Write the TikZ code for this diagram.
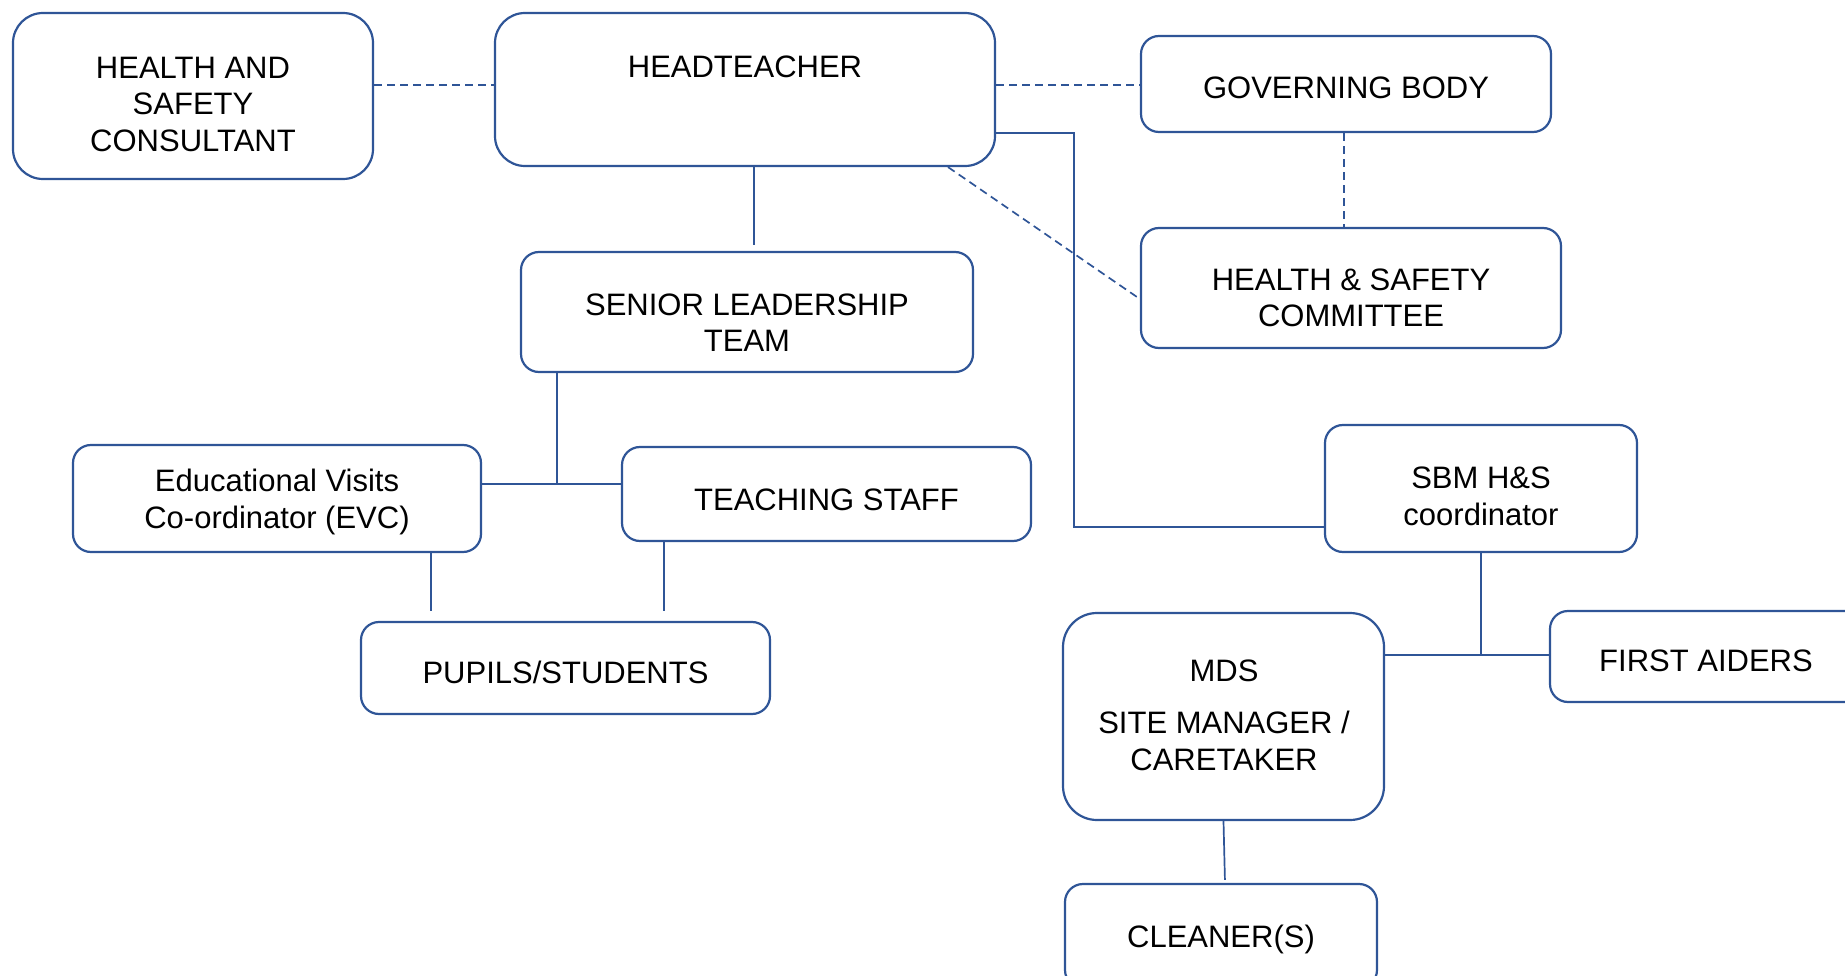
\documentclass[tikz,border=0pt]{standalone}
\usepackage{fontspec}
\setmainfont{Liberation Sans}
\definecolor{lblue}{RGB}{47,85,151}
\begin{document}
\begin{tikzpicture}[x=1pt,y=-1pt,
  box/.style={draw=lblue, line width=2.2pt, rounded corners=18pt, fill=white, inner sep=0pt},
  bigbox/.style={box, rounded corners=30pt},
  txt/.style={inner sep=0pt, align=center, font=\fontsize{31}{36.5}\selectfont},
  conn/.style={draw=lblue, line width=1.7pt},
  dconn/.style={draw=lblue, line width=1.7pt, dash pattern=on 8pt off 5pt}]
\useasboundingbox (0,0) rectangle (1845,976);
\clip (0,0) rectangle (1845,976);
% boxes
\node[bigbox, minimum width=360pt, minimum height=166pt] (hsc) at (193,96) {};
\node[txt, yshift=-8pt] (hsct) at (hsc.center) {HEALTH AND\\SAFETY\\CONSULTANT};
\node[bigbox, minimum width=500pt, minimum height=153pt] (ht) at (745,89.5) {};
\node[txt] (htt) at (745,67) {HEADTEACHER};
\node[box, minimum width=410pt, minimum height=96pt] (gb) at (1346,84) {};
\node[txt, yshift=-3.5pt] (gbt) at (gb.center) {GOVERNING BODY};
\node[box, minimum width=420pt, minimum height=120pt] (hscom) at (1351,288) {};
\node[txt, yshift=-10pt] (hscomt) at (hscom.center) {HEALTH \& SAFETY\\COMMITTEE};
\node[box, minimum width=452pt, minimum height=120pt] (slt) at (747,312) {};
\node[txt, yshift=-10.5pt] (sltt) at (slt.center) {SENIOR LEADERSHIP\\TEAM};
\node[box, minimum width=408pt, minimum height=107pt] (evc) at (277,498.5) {};
\node[txt, yshift=-3.5pt] (evct) at (evc.center) {Educational Visits\\Co-ordinator (EVC)};
\node[box, minimum width=409pt, minimum height=94pt] (ts) at (826.5,494) {};
\node[txt, yshift=-6pt] (tst) at (ts.center) {TEACHING STAFF};
\node[box, minimum width=409pt, minimum height=92pt] (pup) at (565.5,668) {};
\node[txt, yshift=-4.7pt] (pupt) at (pup.center) {PUPILS/STUDENTS};
\node[box, minimum width=312pt, minimum height=127pt] (sbm) at (1481,488.5) {};
\node[txt, yshift=-7.6pt] (sbmt) at (sbm.center) {SBM H\&S\\coordinator};
\node[box, minimum width=312pt, minimum height=91pt] (fa) at (1706,656.5) {};
\node[txt, yshift=-4.7pt] (fat) at (fa.center) {FIRST AIDERS};
\node[bigbox, rounded corners=34pt, minimum width=321pt, minimum height=207pt] (mds) at (1223.5,716.5) {};
\node[txt] (mdst) at (1224,671) {MDS};
\node[txt] (mdst2) at (1224,741) {SITE MANAGER /\\CARETAKER};
\node[box, minimum width=312pt, minimum height=104pt] (cl) at (1221,936) {};
\node[txt, yshift=-3.5pt] (clt) at (cl.center) {CLEANER(S)};
% connectors
\draw[dconn] (hsc.east |- 0,85) -- (ht.west |- 0,85);
\draw[dconn] (ht.east |- 0,85) -- (gb.west |- 0,85);
\draw[dconn] (gb.south -| 1344,0) -- (hscom.north -| 1344,0);
\draw[dconn] (ht.south -| 948,0) -- (hscom.west |- 0,299);
\draw[conn, shorten >=6pt] (ht.south -| 754,0) -- (slt.north -| 754,0);
\coordinate (j1) at (1074,133);
\coordinate (j2) at (1074,527);
\draw[conn] (ht.east |- j1) -- (j1) -- (j2) -- (sbm.west |- j2);
\coordinate (j3) at (557,484);
\draw[conn] (slt.south -| j3) -- (j3);
\draw[conn] (evc.east |- j3) -- (ts.west |- j3);
\draw[conn, shorten >=10pt] (evc.south -| 431,0) -- (pup.north -| 431,0);
\draw[conn, shorten >=10pt] (ts.south -| 664,0) -- (pup.north -| 664,0);
\coordinate (j4) at (1481,655);
\draw[conn] (sbm.south) -- (j4);
\draw[conn] (mds.east |- j4) -- (fa.west |- j4);
\draw[conn, shorten >=3pt] (mds.south) -- (cl.north -| 1225,0);
\end{tikzpicture}
\end{document}
